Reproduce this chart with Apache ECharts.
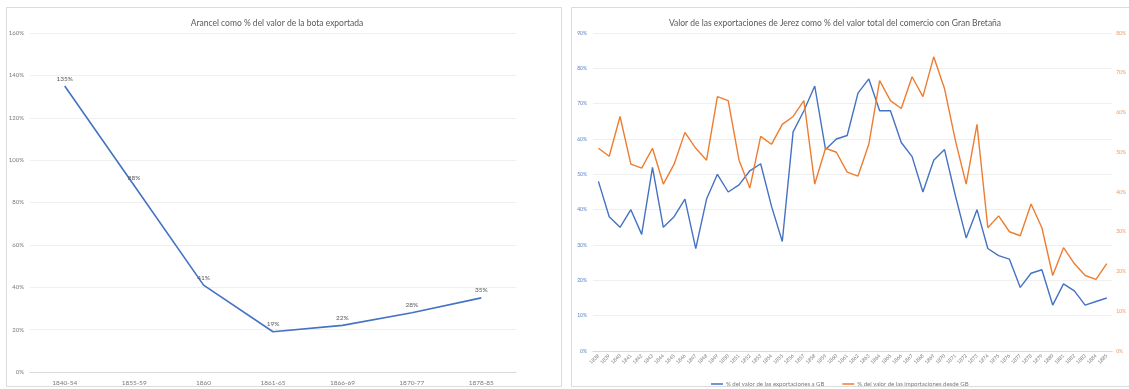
<!DOCTYPE html>
<html>
<head>
<meta charset="utf-8">
<script src="https://cdn.jsdelivr.net/npm/echarts@6/dist/echarts.min.js"></script>
<style>
  html, body { margin: 0; padding: 0; background: #ffffff; }
  #c { width: 1129px; height: 389px; }
</style>
</head>
<body>
<div id="c"></div>
<script>
// Left panel: duty as a share of the value of an exported butt of sherry
const periodos = ['1840-54', '1855-59', '1860', '1861-65', '1866-69', '1870-77', '1878-85'];
const arancel = [135, 88, 41, 19, 22, 28, 35];

// Right panel: Jerez exports as a share of total trade with Great Britain
const anios = ['1838', '1839', '1840', '1841', '1842', '1843', '1844', '1845', '1846', '1847',
  '1848', '1849', '1850', '1851', '1852', '1853', '1854', '1855', '1856', '1857',
  '1858', '1859', '1860', '1861', '1862', '1863', '1864', '1865', '1866', '1867',
  '1868', '1869', '1870', '1871', '1872', '1873', '1874', '1875', '1876', '1877',
  '1878', '1879', '1880', '1881', '1882', '1883', '1884', '1885'];
const exportacionesGB = [48, 38, 35, 40, 33, 52, 35, 38, 43, 29,
  43, 50, 45, 47, 51, 53, 41, 31, 62, 68,
  75, 57, 60, 61, 73, 77, 68, 68, 59, 55,
  45, 54, 57, 44, 32, 40, 29, 27, 26, 18,
  22, 23, 13, 19, 17, 13, 14, 15];
const importacionesGB = [51, 49, 59, 47, 46, 51, 42, 47, 55, 51,
  48, 64, 63, 48, 41, 54, 52, 57, 59, 63,
  42, 51, 50, 45, 44, 52, 68, 63, 61, 69,
  64, 74, 66, 53, 42, 57, 31, 34, 30, 29,
  37, 31, 19, 26, 22, 19, 18, 22];

const serieExportaciones = '% del valor de las exportaciones a GB';
const serieImportaciones = '% del valor de las importaciones desde GB';

const FONT = 'Lato, "Liberation Sans", sans-serif';
const AZUL = '#4472C4';
const NARANJA = '#ED7D31';
const GRID_LINE = '#efefef';
const TEXTO = '#7a7a7a';

const chart = echarts.init(document.getElementById('c'), null, { renderer: 'canvas' });

chart.setOption({
  animation: false,
  backgroundColor: '#ffffff',
  textStyle: { fontFamily: FONT },
  graphic: [
    { type: 'rect', shape: { x: 6.5, y: 7.5, width: 555, height: 379 },
      style: { fill: 'none', stroke: '#dcdcdc', lineWidth: 1 }, silent: true },
    { type: 'rect', shape: { x: 571.5, y: 7.5, width: 560, height: 379 },
      style: { fill: 'none', stroke: '#dcdcdc', lineWidth: 1 }, silent: true }
  ],
  title: [
    { text: 'Arancel como % del valor de la bota exportada', left: 272, top: 14, textAlign: 'center',
      textStyle: { fontFamily: FONT, fontSize: 8.5, fontWeight: 'normal', color: '#595959' } },
    { text: 'Valor de las exportaciones de Jerez como % del valor total del comercio con Gran Bretaña',
      left: 830, top: 14, textAlign: 'center',
      textStyle: { fontFamily: FONT, fontSize: 8.5, fontWeight: 'normal', color: '#595959' } }
  ],
  legend: {
    left: 706, top: 376,
    icon: 'rect', itemWidth: 12, itemHeight: 1.5, itemGap: 18,
    textStyle: { fontFamily: FONT, fontSize: 6, color: TEXTO, padding: [0, 0, 0, -2] },
    data: [serieExportaciones, serieImportaciones]
  },
  grid: [
    { left: 30, top: 33, width: 486, height: 339 },
    { left: 593, top: 33, width: 525, height: 318 }
  ],
  xAxis: [
    { type: 'category', gridIndex: 0, data: periodos, boundaryGap: true,
      axisLine: { lineStyle: { color: '#d9d9d9' } }, axisTick: { show: false },
      axisLabel: { fontFamily: FONT, fontSize: 6.5, color: TEXTO, margin: 7 } },
    { type: 'category', gridIndex: 1, data: anios, boundaryGap: true,
      axisLine: { lineStyle: { color: '#d9d9d9' } }, axisTick: { show: false },
      axisLabel: { fontFamily: FONT, fontSize: 5, color: TEXTO, interval: 0, rotate: 45, margin: 4 } }
  ],
  yAxis: [
    { type: 'value', gridIndex: 0, min: 0, max: 160, interval: 20,
      axisLine: { show: false }, axisTick: { show: false },
      splitLine: { lineStyle: { color: GRID_LINE } },
      axisLabel: { fontFamily: FONT, fontSize: 6, color: TEXTO, formatter: '{value}%', margin: 6 } },
    { type: 'value', gridIndex: 1, min: 0, max: 90, interval: 10, alignTicks: false,
      axisLine: { show: false }, axisTick: { show: false },
      splitLine: { lineStyle: { color: GRID_LINE } },
      axisLabel: { fontFamily: FONT, fontSize: 5, color: '#5b7fc4', formatter: '{value}%', margin: 6 } },
    { type: 'value', gridIndex: 1, position: 'right', min: 0, max: 80, interval: 10, alignTicks: false,
      axisLine: { show: false }, axisTick: { show: false }, splitLine: { show: false },
      axisLabel: { fontFamily: FONT, fontSize: 5, color: '#e99a68', formatter: '{value}%', margin: 4 } }
  ],
  series: [
    { name: 'Arancel', type: 'line', xAxisIndex: 0, yAxisIndex: 0, data: arancel,
      symbol: 'circle', symbolSize: 0.01, showSymbol: true,
      lineStyle: { color: AZUL, width: 1.6 }, itemStyle: { color: AZUL },
      label: { show: true, position: 'top', distance: 4, formatter: '{c}%',
        fontFamily: FONT, fontSize: 6.5, color: '#595959' } },
    { name: serieExportaciones, type: 'line', xAxisIndex: 1, yAxisIndex: 1, data: exportacionesGB,
      symbol: 'none', lineStyle: { color: AZUL, width: 1.4 }, itemStyle: { color: AZUL } },
    { name: serieImportaciones, type: 'line', xAxisIndex: 1, yAxisIndex: 2, data: importacionesGB,
      symbol: 'none', lineStyle: { color: NARANJA, width: 1.4 }, itemStyle: { color: NARANJA } }
  ]
});
</script>
</body>
</html>
